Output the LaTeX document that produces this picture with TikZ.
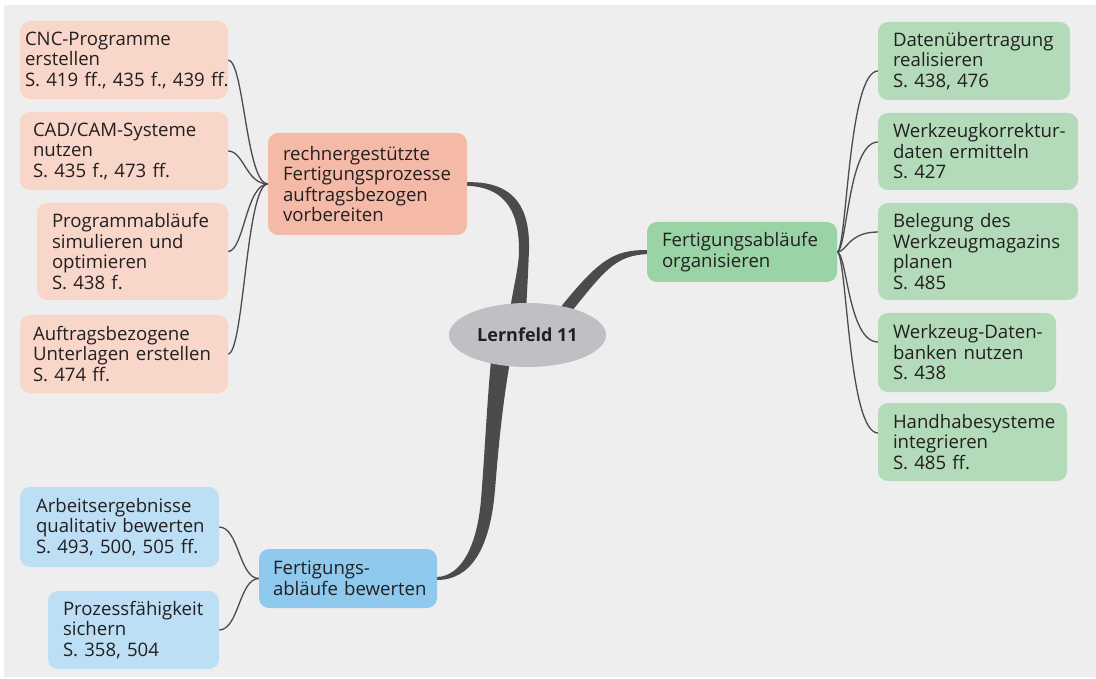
\documentclass[tikz,border=0pt]{standalone}
\usepackage{fontspec}
\setmainfont{Open Sans}
\usepackage{tikz}
\usetikzlibrary{shapes.geometric,backgrounds}
\hyphenpenalty=10000\relax
\exhyphenpenalty=10000\relax

\definecolor{bggray}{HTML}{EEEEEE}
\definecolor{pinkL}{HTML}{F8D6CA}
\definecolor{pinkM}{HTML}{F4BAA7}
\definecolor{greenL}{HTML}{B3DBB9}
\definecolor{greenM}{HTML}{9AD3A5}
\definecolor{blueL}{HTML}{BDDFF5}
\definecolor{blueM}{HTML}{8FC9EE}
\definecolor{hubgray}{HTML}{BFC0C4}
\definecolor{branchgray}{HTML}{4A4B4D}
\definecolor{txt}{HTML}{231F20}

\begin{document}
\begin{tikzpicture}[x=1pt, y=-1pt,
  every node/.style = {text=txt, outer sep=0pt,
    font=\fontsize{18.6}{20.5}\selectfont\frenchspacing},
  topic/.style = {anchor=north west, rounded corners=10pt, align=left,
    inner xsep=15pt, inner ysep=0pt},
  branch/.style = {fill=branchgray},
  twig/.style = {draw=branchgray, line width=1.3pt}]
  \useasboundingbox (0,0) rectangle (1096,679);

  \node[ellipse, fill=hubgray, minimum width=157pt, minimum height=64pt, inner sep=0pt,
    font=\fontsize{18}{20.5}\selectfont\bfseries] (lf) at (527.5,335) {Lernfeld 11};

  \node[topic, fill=pinkM, text width=169pt, minimum height=102pt] (rechner) at (268,133)
    {rechnergestützte\\Fertigungsprozesse\\auftragsbezogen\\vorbereiten};
  \node[topic, fill=pinkL, text width=198pt, inner xsep=5pt, minimum height=78pt] (cnc) at (20,21)
    {CNC-Programme\\erstellen\\\mbox{S. 419 ff., 435 f., 439 ff.}};
  \node[topic, fill=pinkL, text width=182pt, inner xsep=13pt, minimum height=78pt] (cad) at (20,112)
    {CAD/CAM-Systeme\\nutzen\\S. 435 f., 473 ff.};
  \node[topic, fill=pinkL, text width=161pt, minimum height=97pt] (simul) at (37,203)
    {Programmabläufe\\simulieren und\\optimieren\\S. 438 f.};
  \node[topic, fill=pinkL, text width=182pt, inner xsep=13pt, minimum height=78pt] (unterl) at (20,315)
    {Auftragsbezogene\\\mbox{Unterlagen erstellen}\\S. 474 ff.};

  \node[topic, fill=greenM, text width=160pt, minimum height=60pt] (organis) at (647,222)
    {Fertigungsabläufe\\organisieren};
  \node[topic, fill=greenL, text width=162pt, minimum height=78pt] (daten) at (878,22)
    {Datenübertragung\\realisieren\\S. 438, 476};
  \node[topic, fill=greenL, text width=170pt, minimum height=77pt] (korr) at (878,113)
    {Werkzeugkorrektur-\\daten ermitteln\\S. 427};
  \node[topic, fill=greenL, text width=170pt, minimum height=97pt] (magazin) at (878,203)
    {Belegung des\\Werkzeugmagazins\\planen\\S. 485};
  \node[topic, fill=greenL, text width=148pt, minimum height=79pt] (dbank) at (878,313)
    {Werkzeug-Daten-\\banken nutzen\\S. 438};
  \node[topic, fill=greenL, text width=159pt, minimum height=78pt] (handh) at (878,403)
    {Handhabesysteme\\integrieren\\S. 485 ff.};

  \node[topic, fill=blueM, text width=150pt, inner xsep=14pt, minimum height=59pt] (bewert) at (259,549)
    {Fertigungs-\\\mbox{abläufe bewerten}};
  \node[topic, fill=blueL, text width=167pt, inner xsep=16pt, minimum height=80pt] (arbeit) at (20,487)
    {Arbeitsergebnisse\\\mbox{qualitativ bewerten}\\\mbox{S. 493, 500, 505 ff.}};
  \node[topic, fill=blueL, text width=141pt, minimum height=78pt] (prozess) at (48,591)
    {Prozessfähigkeit\\sichern\\S. 358, 504};

  \begin{scope}[on background layer]
    \fill[bggray] (4,5) rectangle (1096,677);
    % tapered main branches
    \fill[branch] ([yshift=1.8pt]rechner.east) .. controls (518,181) and (530,212) .. (529,250)
      .. controls (528,275) .. (525,330) -- (507,330) .. controls (512,290) and (519,270) .. (519,250)
      .. controls (519,205) and (500,187) .. ([yshift=-1.8pt]rechner.east) -- cycle;
    \fill[branch] ([yshift=2pt]organis.west) .. controls (615,250) and (600,258) .. (560,308)
      -- (550,320) -- (564,320) -- (576,306) .. controls (608,266) and (618,256) .. ([yshift=-2pt]organis.west) -- cycle;
    \fill[branch] ([yshift=1.5pt]bewert.east) .. controls (462,576) and (477,545) .. (481,500)
      .. controls (485,450) and (487,400) .. (492,350) -- (512,350) .. controls (503,400) and (499,440) .. (495,490)
      .. controls (490,550) and (470,580) .. ([yshift=-1.5pt]bewert.east) -- cycle;
    % thin twigs
    \foreach \n in {cnc,cad,simul,unterl}
      \draw[twig] (\n.east) .. controls +(16,0) and +(-22,0) .. (rechner.west);
    \foreach \n/\s in {daten/-10,korr/9.5,magazin/19.5,dbank/10.5,handh/9}
      \draw[twig] (organis.east) .. controls +(10,0) and +(-30,0) .. ([yshift=\s pt]\n.west);
    \foreach \n in {arbeit,prozess}
      \draw[twig] (\n.east) .. controls +(20,0) and +(-20,0) .. (bewert.west);
  \end{scope}
\end{tikzpicture}
\end{document}
